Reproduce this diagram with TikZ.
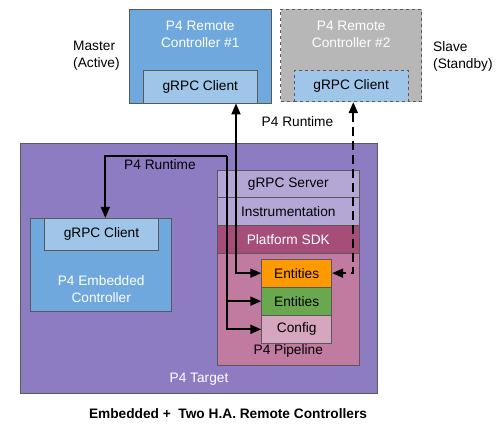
\documentclass[tikz,border=0pt]{standalone}
\usepackage{fontspec}
\setmainfont{Liberation Sans}
\usetikzlibrary{arrows.meta,positioning}

\definecolor{ctrlblue}{HTML}{6FA8DC}
\definecolor{clientblue}{HTML}{9FC5E8}
\definecolor{standbygray}{HTML}{B7B7B7}
\definecolor{targetpurple}{HTML}{8E7CC3}
\definecolor{layerlilac}{HTML}{B4A7D6}
\definecolor{sdkplum}{HTML}{A64D79}
\definecolor{pipepink}{HTML}{C27BA0}
\definecolor{cfgpink}{HTML}{D5A6BD}
\definecolor{entorange}{HTML}{FF9900}
\definecolor{entgreen}{HTML}{6AA84F}

\begin{document}
\begin{tikzpicture}[x=1pt,y=-1pt]

\tikzset{inner sep=0mm,font=\fontsize{13.7}{17}\selectfont,
box/.style={draw=black!65,line width=0.8pt,rectangle},
ctrl/.style={box,fill=ctrlblue},
client/.style={box,fill=clientblue},
layer/.style={box,fill=layerlilac,minimum width=142,text=black},
entity/.style={box,minimum width=70},
rtjump/.style={line width=1.9pt,>={Triangle[length=11pt,width=9pt]}},
wlabel/.style={text=white,align=center}}

\useasboundingbox (0,0) rectangle (503,426);

% Remote controllers
\node[ctrl,minimum width=142.5,minimum height=94] (rc1) at (200.25,56) {};
\node[client,minimum width=114,minimum height=32.3] (rc1c) at (200.3,86.85) {gRPC Client};
\node[wlabel] (rc1t) at (200.25,34) {P4 Remote\\Controller \#1};
\node[align=left,anchor=west] (master) at (73,56) {Master\\(Active)};

\node[box,dashed,fill=standbygray,minimum width=141,minimum height=92.7] (rc2) at (351.2,55.3) {};
\node[client,dashed,minimum width=114.3,minimum height=31] (rc2c) at (351.15,86.2) {gRPC Client};
\node[wlabel] (rc2t) at (351.2,34) {P4 Remote\\Controller \#2};
\node[align=left,anchor=west] (slave) at (433,56) {Slave\\(Standby)};

% Target
\node[box,fill=targetpurple,minimum width=357,minimum height=250] (target) at (199.2,268.3) {};
\node[wlabel] (targett) at (199,379) {P4 Target};

% Embedded controller
\node[ctrl,minimum width=141,minimum height=93.4] (emb) at (101.2,265) {};
\node[client,minimum width=114.4,minimum height=31.7] (embc) at (101.5,234.15) {gRPC Client};
\node[wlabel] (embt) at (101.2,289.5) {P4 Embedded\\Controller};

% Software stack
\node[layer,minimum height=26.6] (grpcs) at (288.3,184) {gRPC Server};
\node[layer,minimum height=28.4] (instr) at (288.3,211.5) {Instrumentation};
\node[layer,fill=sdkplum,text=white,minimum height=27.6] (sdk) at (288.3,239.5) {Platform SDK};
\node[layer,fill=pipepink,minimum height=111.7] (pipe) at (288.3,309.15) {};
\node (pipet) at (288.3,351) {P4 Pipeline};

\node[entity,fill=entorange,minimum height=27.7] (ent1) at (296.7,273.15) {Entities};
\node[entity,fill=entgreen,minimum height=28.3] (ent2) at (296.7,301.15) {Entities};
\node[entity,fill=cfgpink,minimum height=28] (cfg) at (296.7,329.3) {Config};

% Arrows
\coordinate (m1) at (236,275);
\coordinate (s1) at (353.3,275);
\coordinate (e1) at (105.3,156);
\coordinate (e2) at (226.7,156);

\draw[rtjump,<->] (rc1c.south -| m1) |- (ent1.west);
\draw[rtjump,<->,dash pattern=on 9pt off 5pt] (rc2c.south -| s1) |- (ent1.east);
\node (rtlab1) at (297.5,121.5) {P4 Runtime};

\draw[rtjump,->] (e2) -- (e1) -- (embc.north -| e1);
\draw[rtjump,->] (e2) |- (cfg.west);
\draw[rtjump,->] (e2 |- ent2.west) -- (ent2.west);
\node (rtlab2) at (160,165) {P4 Runtime};

% Caption
\node[font=\fontsize{13.7}{17}\selectfont\bfseries] (caption) at (228,414) {Embedded +\ \ Two H.A. Remote Controllers};

\end{tikzpicture}
\end{document}
